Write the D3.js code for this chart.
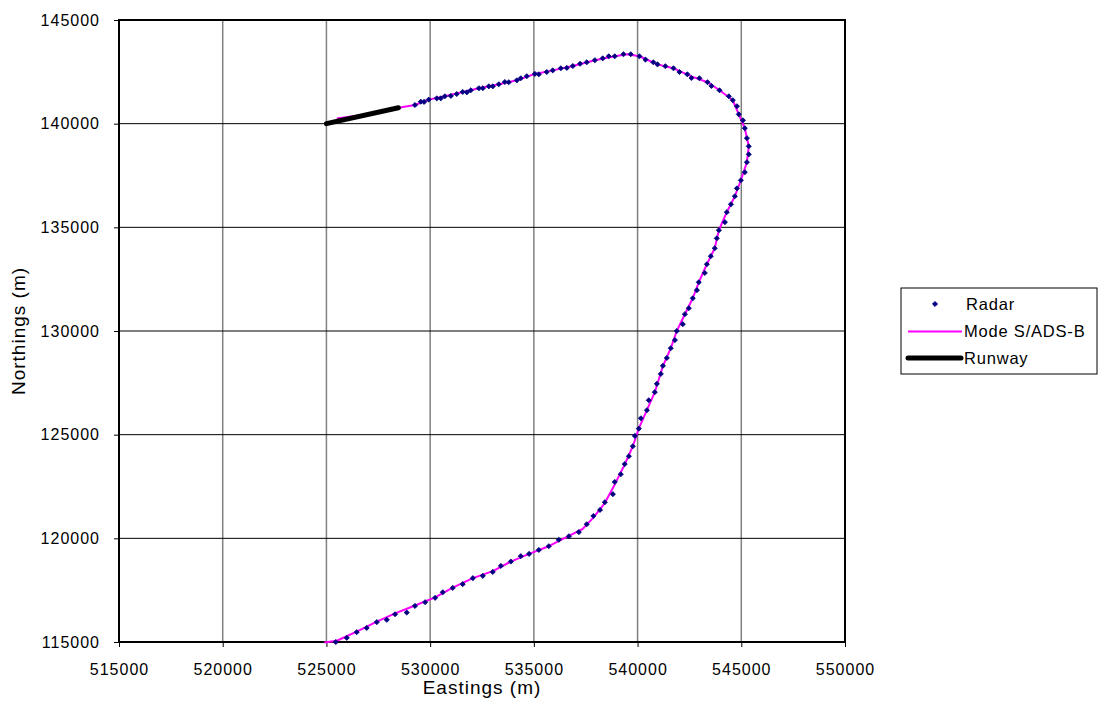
<!DOCTYPE html>
<html>
<head>
<meta charset="utf-8">
<script src="https://cdn.jsdelivr.net/npm/d3@7"></script>
<style>
  body { margin: 0; background: #fff; }
  svg { display: block; font-family: "Liberation Sans", Arial, sans-serif; }
</style>
</head>
<body>
<svg id="chart" width="1107" height="720"></svg>
<script>
// ---- Data ----
const xTicks = [515000, 520000, 525000, 530000, 535000, 540000, 545000, 550000];
const yTicks = [115000, 120000, 125000, 130000, 135000, 140000, 145000];

// Radar plots [easting, northing]
const radarE = [525450,525980,526460,526940,527430,527910,528310,528870,529270,529760,
  530240,530610,531090,531570,532060,532540,533020,533410,533890,534370,
  534770,535240,535720,536200,536690,537170,537550,537870,538190,538420,
  538810,538900,539190,539380,539580,539770,539870,540060,540160,540450,
  540540,540830,540930,541120,541220,541410,541600,541800,541890,542180,
  542280,542470,542660,542860,542950,543240,543340,543530,543720,543820,
  543920,544210,544300,544500,544690,544790,544980,545170,545270,545360,
  545360,545270,545170,545080,544880,544790,544590,544400,543950,543560,
  543370,542980,542600,542400,542020,541730,541340,540960,540760,540380,
  540090,539670,539320,538900,538610,538320,537940,537550,537230,536880,
  536590,536300,535910,535620,535240,535050,534660,534370,534180,533790,
  533600,533310,533020,532830,532540,532350,531960,531770,531570,531280,
  531000,530710,530510,530320,529930,529710,529550,529270];
const radarN = [115000,115200,115475,115680,115960,116070,116340,116420,116740,116920,
  117130,117400,117610,117790,118080,118190,118380,118670,118880,119140,
  119250,119440,119620,119930,120100,120300,120680,121080,121370,121740,
  122130,122720,123090,123580,123960,124440,124940,125290,125790,126180,
  126660,127050,127450,127930,128320,128700,129170,129560,130000,130330,
  130810,131100,131580,131970,132350,132800,133220,133610,133990,134470,
  134860,135250,135730,136110,136500,136880,137270,137660,138140,138520,
  138910,139300,139780,140160,140450,140840,141130,141320,141610,141820,
  142000,142190,142200,142380,142490,142670,142770,142860,142960,143090,
  143250,143350,143350,143250,143250,143150,143060,142960,142890,142780,
  142690,142670,142570,142490,142380,142400,142290,142190,142090,142000,
  142010,141900,141800,141800,141710,141710,141610,141510,141530,141430,
  141340,141320,141220,141220,141160,141050,141060,140900];

// Mode S / ADS-B track
const modeSE = [524900,525500,526460,527430,528310,529270,530240,531090,532060,533020,
  533890,534770,535720,536690,537350,537870,538420,538900,539380,539770,
  540060,540450,540830,541220,541600,541890,542280,542660,542950,543340,
  543720,543920,544300,544690,544980,545270,545360,545170,544880,544590,
  543950,543370,542600,541730,540960,540090,539500,538900,537940,536880,
  535910,535050,534180,533310,532350,531570,530710,529930,529270,528470,
  527000,525500];
const modeSN = [114980,115060,115500,115980,116380,116760,117150,117620,118080,118420,
  118880,119250,119620,120120,120450,121000,121700,122600,123560,124440,
  125300,126180,127050,128300,129170,130000,130810,131580,132350,133220,
  133990,134860,135730,136500,137270,138140,138910,139780,140450,141130,
  141610,142000,142280,142670,142860,143250,143350,143250,143060,142780,
  142570,142400,142090,141900,141710,141530,141320,141160,140900,140770,
  140450,140250];

// Runway
const runwayE = [525000, 528470];
const runwayN = [140000, 140770];

const seriesNames = ["Radar", "Mode S/ADS-B", "Runway"];

// ---- Layout ----
const svg = d3.select("#chart");
const L = 119, R = 845, T = 20, B = 642;
const FONT = "Liberation Sans, Arial, sans-serif";

const x = d3.scaleLinear().domain([515000, 550000]).range([L, R]);
const y = d3.scaleLinear().domain([115000, 145000]).range([B, T]);

// gridlines
svg.append("g").selectAll("line").data(xTicks.slice(1, -1)).join("line")
  .attr("x1", d => x(d)).attr("x2", d => x(d))
  .attr("y1", T).attr("y2", B)
  .attr("stroke", "#808080").attr("stroke-width", 1.5);
svg.append("g").selectAll("line").data(yTicks.slice(1, -1)).join("line")
  .attr("x1", L).attr("x2", R)
  .attr("y1", d => y(d)).attr("y2", d => y(d))
  .attr("stroke", "#000").attr("stroke-width", 1);

// axes
const xAxis = d3.axisBottom(x).tickValues(xTicks).tickSize(5).tickSizeOuter(0).tickFormat(d3.format("d"));
const yAxis = d3.axisLeft(y).tickValues(yTicks).tickSize(5).tickSizeOuter(0).tickFormat(d3.format("d"));

const gx = svg.append("g").attr("transform", `translate(0,${B})`).call(xAxis);
gx.select(".domain").remove();
gx.selectAll("text").attr("font-size", 16).attr("fill", "#000").attr("dy", "1.55em")
  .attr("letter-spacing", 1).attr("font-family", FONT);
gx.selectAll("line").attr("stroke", "#000");

const gy = svg.append("g").attr("transform", `translate(${L},0)`).call(yAxis);
gy.select(".domain").remove();
gy.selectAll("text").attr("font-size", 16).attr("fill", "#000").attr("x", -19)
  .attr("letter-spacing", 1).attr("font-family", FONT);
gy.selectAll("line").attr("stroke", "#000");

// plot border
svg.append("rect").attr("x", L).attr("y", T).attr("width", R - L).attr("height", B - T)
  .attr("fill", "none").attr("stroke", "#000").attr("stroke-width", 2);

// Mode S line
const modeS = modeSE.map((e, i) => [e, modeSN[i]]);
svg.append("path").datum(modeS)
  .attr("d", d3.line().x(d => x(d[0])).y(d => y(d[1])))
  .attr("fill", "none").attr("stroke", "#FF00FF").attr("stroke-width", 2)
  .attr("stroke-linejoin", "round");

// Radar markers
const radar = radarE.map((e, i) => [e, radarN[i]]);
const diamond = d3.symbol().type(d3.symbolSquare).size(13);
svg.append("g").selectAll("path").data(radar).join("path")
  .attr("d", diamond)
  .attr("transform", d => `translate(${x(d[0])},${y(d[1])}) rotate(45)`)
  .attr("fill", "#000080").attr("stroke", "#000080").attr("stroke-width", 0.8);

// Runway
const runway = runwayE.map((e, i) => [e, runwayN[i]]);
svg.append("path").datum(runway)
  .attr("d", d3.line().x(d => x(d[0])).y(d => y(d[1])))
  .attr("fill", "none").attr("stroke", "#000").attr("stroke-width", 5)
  .attr("stroke-linecap", "round");

// axis titles
svg.append("text").attr("x", (L + R) / 2).attr("y", 694).attr("text-anchor", "middle")
  .attr("font-size", 19).attr("letter-spacing", 1).text("Eastings (m)");
svg.append("text").attr("transform", `translate(25,${(T + B) / 2}) rotate(-90)`)
  .attr("text-anchor", "middle").attr("font-size", 19).attr("letter-spacing", 1).text("Northings (m)");

// legend
const lg = svg.append("g");
lg.append("rect").attr("x", 901).attr("y", 288).attr("width", 196).attr("height", 86)
  .attr("fill", "#fff").attr("stroke", "#000").attr("stroke-width", 1);
const rows = [304, 331.5, 358];
lg.append("path").attr("d", diamond)
  .attr("transform", `translate(935,${rows[0]}) rotate(45)`)
  .attr("fill", "#000080").attr("stroke", "#000080").attr("stroke-width", 0.8);
lg.append("line").attr("x1", 908).attr("x2", 962).attr("y1", rows[1]).attr("y2", rows[1])
  .attr("stroke", "#FF00FF").attr("stroke-width", 2);
lg.append("line").attr("x1", 908).attr("x2", 961).attr("y1", rows[2]).attr("y2", rows[2])
  .attr("stroke", "#000").attr("stroke-width", 5).attr("stroke-linecap", "round");
lg.selectAll("text").data(seriesNames).join("text")
  .attr("x", (d, i) => i === 0 ? 966 : 964)
  .attr("y", (d, i) => rows[i]).attr("dy", "0.35em")
  .attr("font-size", 16.5).attr("letter-spacing", 0.8).text(d => d);
</script>
</body>
</html>
